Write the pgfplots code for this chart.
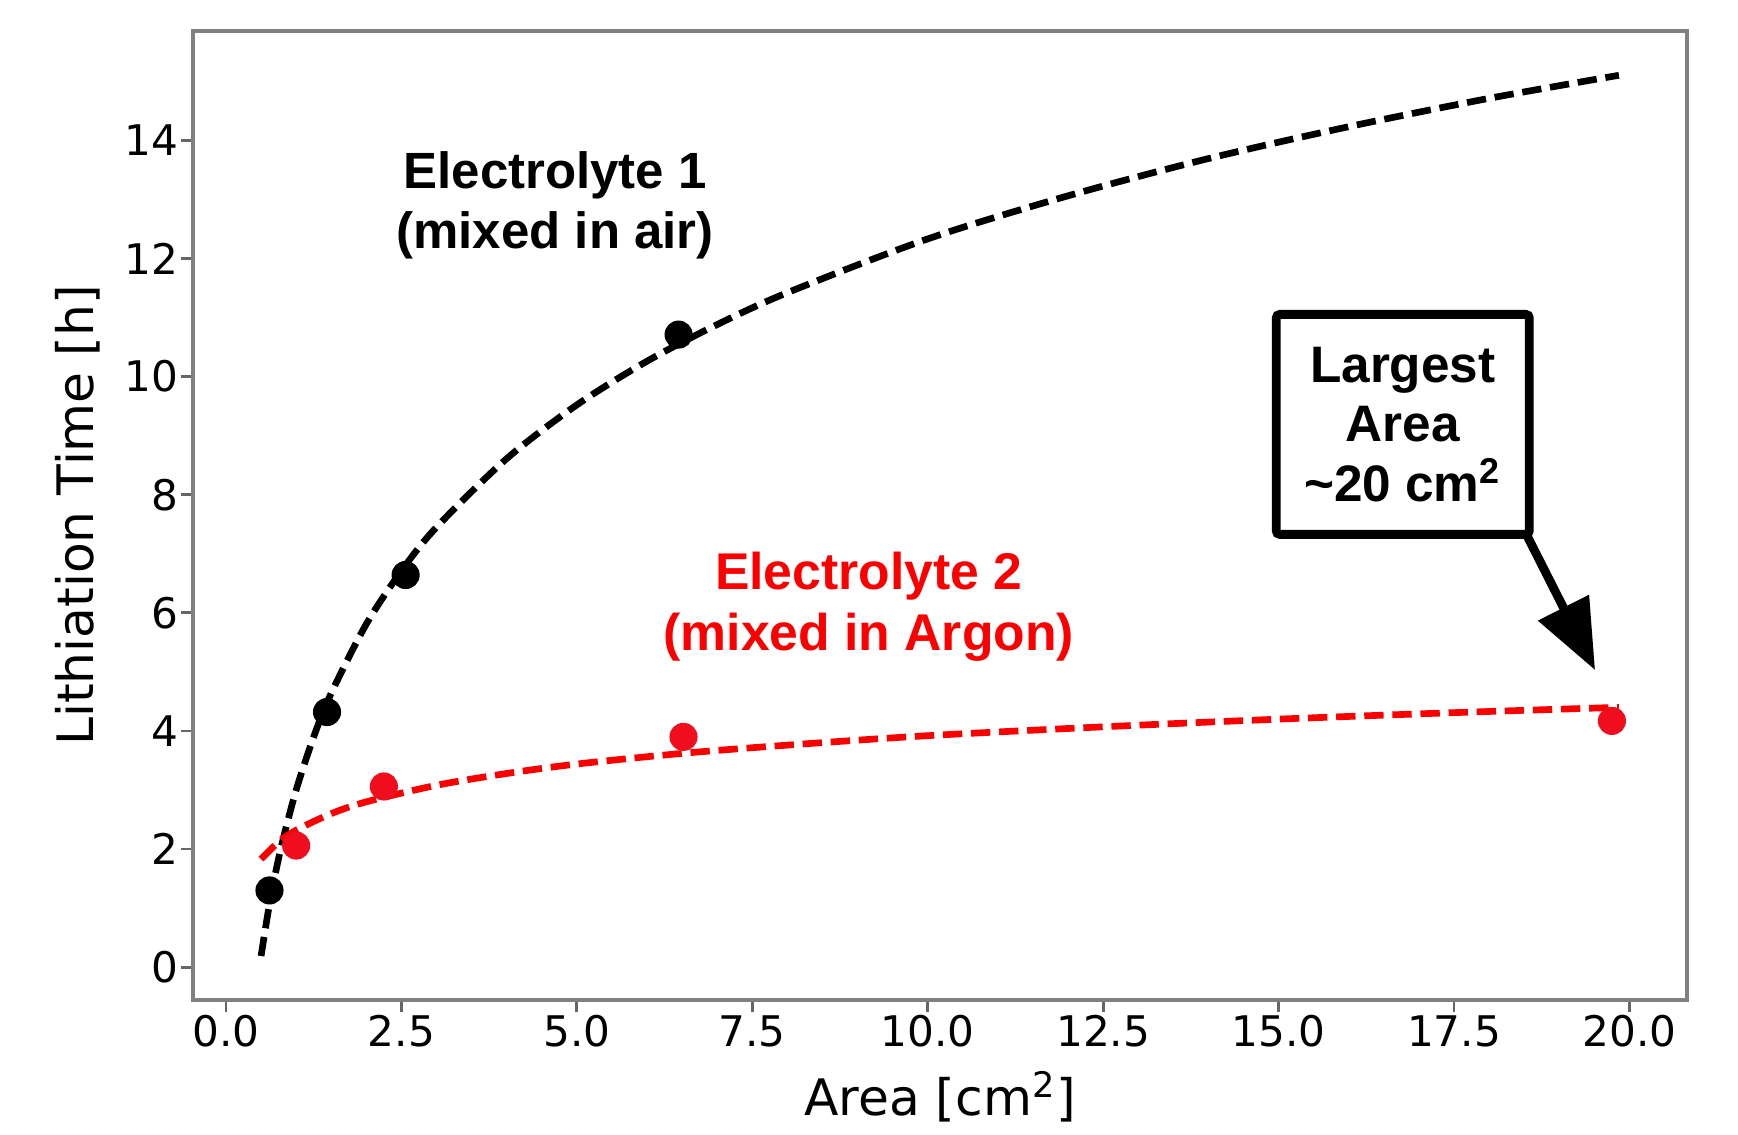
\documentclass[border=0pt]{standalone}
\usepackage{pgfplots}
\pgfplotsset{compat=1.18}
\usepackage{fontspec}
\setmainfont{DejaVu Sans}
\newfontfamily\annfont{Liberation Sans}
\usetikzlibrary{arrows.meta}
\definecolor{mred}{RGB}{240,14,30}
\definecolor{tred}{RGB}{250,0,0}
\begin{document}
\begin{tikzpicture}
\begin{axis}[
  scale only axis, width=149.4mm, height=96.9mm,
  xmin=-0.47, xmax=20.82, ymin=-0.555, ymax=15.85,
  xtick={0,2.5,5,7.5,10,12.5,15,17.5,20},
  ytick={0,2,4,6,8,10,12,14},
  xticklabel style={/pgf/number format/fixed, /pgf/number format/fixed zerofill, /pgf/number format/precision=1, yshift=0.9mm},
  yticklabel style={xshift=1mm},
  /pgf/number format/assume math mode=true,
  tick align=outside, tick pos=left,
  major tick length=1.2mm,
  axis line style={black!50, line width=1pt},
  tick style={black!60, line width=0.8pt},
  ticklabel style={font=\fontsize{12}{14}\selectfont},
  every axis x label/.style={at={(axis description cs:0.5,0)}, yshift=-9.7mm, anchor=center},
  every axis y label/.style={at={(axis description cs:0,0.5)}, xshift=-11.5mm, rotate=90, anchor=center},
  label style={font=\fontsize{14.3}{16}\selectfont},
  xlabel={Area [cm\textsuperscript{2}]},
  ylabel={Lithiation Time [h]},
  clip=false,
]
\coordinate (sw) at (rel axis cs:0,0);
\coordinate (ne) at (rel axis cs:1,1);
% fitted curves
\addplot[black, line width=1.9pt, dash pattern=on 5.5pt off 2.5pt, smooth] coordinates {
(0.5,0.19) (0.6,0.93) (0.7,1.56) (0.8,2.10) (1.0,3.00) (1.25,3.90) (1.5,4.64)
(2.0,5.81) (2.5,6.71) (3.0,7.45) (4.0,8.61) (5.0,9.52) (6.0,10.26) (7.0,10.88)
(8.0,11.42) (10,12.33) (12,13.06) (14,13.69) (16,14.23) (18,14.71) (19.85,15.10)};
\addplot[tred, line width=1.9pt, dash pattern=on 5.5pt off 2.5pt, smooth] coordinates {
(0.5,1.83) (0.75,2.12) (1.0,2.32) (1.5,2.60) (2.0,2.80) (3.0,3.08) (4.0,3.28)
(5.0,3.44) (6.5,3.62) (8.0,3.76) (10,3.92) (12.5,4.07) (15,4.20) (17.5,4.31) (19.85,4.40)};
% measured points
\addplot[only marks, mark=*, mark size=3.8pt, black] coordinates {
(0.62,1.30) (1.44,4.32) (2.56,6.64) (6.45,10.71)};
\addplot[only marks, mark=*, mark size=3.8pt, mred, mark options={draw=mred, fill=mred}] coordinates {
(1.00,2.06) (2.25,3.06) (6.52,3.90) (19.75,4.17)};
% annotations
\node[font=\annfont\bfseries\fontsize{14.5}{17.3}\selectfont, align=center] at (axis cs:4.69,12.9) {Electrolyte 1\\(mixed in air)};
\node[font=\annfont\bfseries\fontsize{14.7}{17.3}\selectfont, align=center, text=tred] at (axis cs:9.16,6.10) {Electrolyte 2\\(mixed in Argon)};
\node[draw, line width=2.5pt, rounded corners=1pt, minimum width=25.3mm, minimum height=22mm, inner sep=1pt,
  align=center, font=\annfont\bfseries\fontsize{14.6}{17}\selectfont] at (axis cs:16.77,9.19)
  {Largest\\Area\\\textasciitilde20 cm\textsuperscript{2}};
\draw[line width=2.5pt, -{Triangle[width=5.5mm,length=7mm]}] (axis cs:18.53,7.33) -- (axis cs:19.51,5.03);
\end{axis}
\pgfresetboundingbox
\path[use as bounding box] ([shift={(-19.3mm,-13.4mm)}]sw) rectangle ([shift={(5.1mm,3.1mm)}]ne);
\end{tikzpicture}
\end{document}
